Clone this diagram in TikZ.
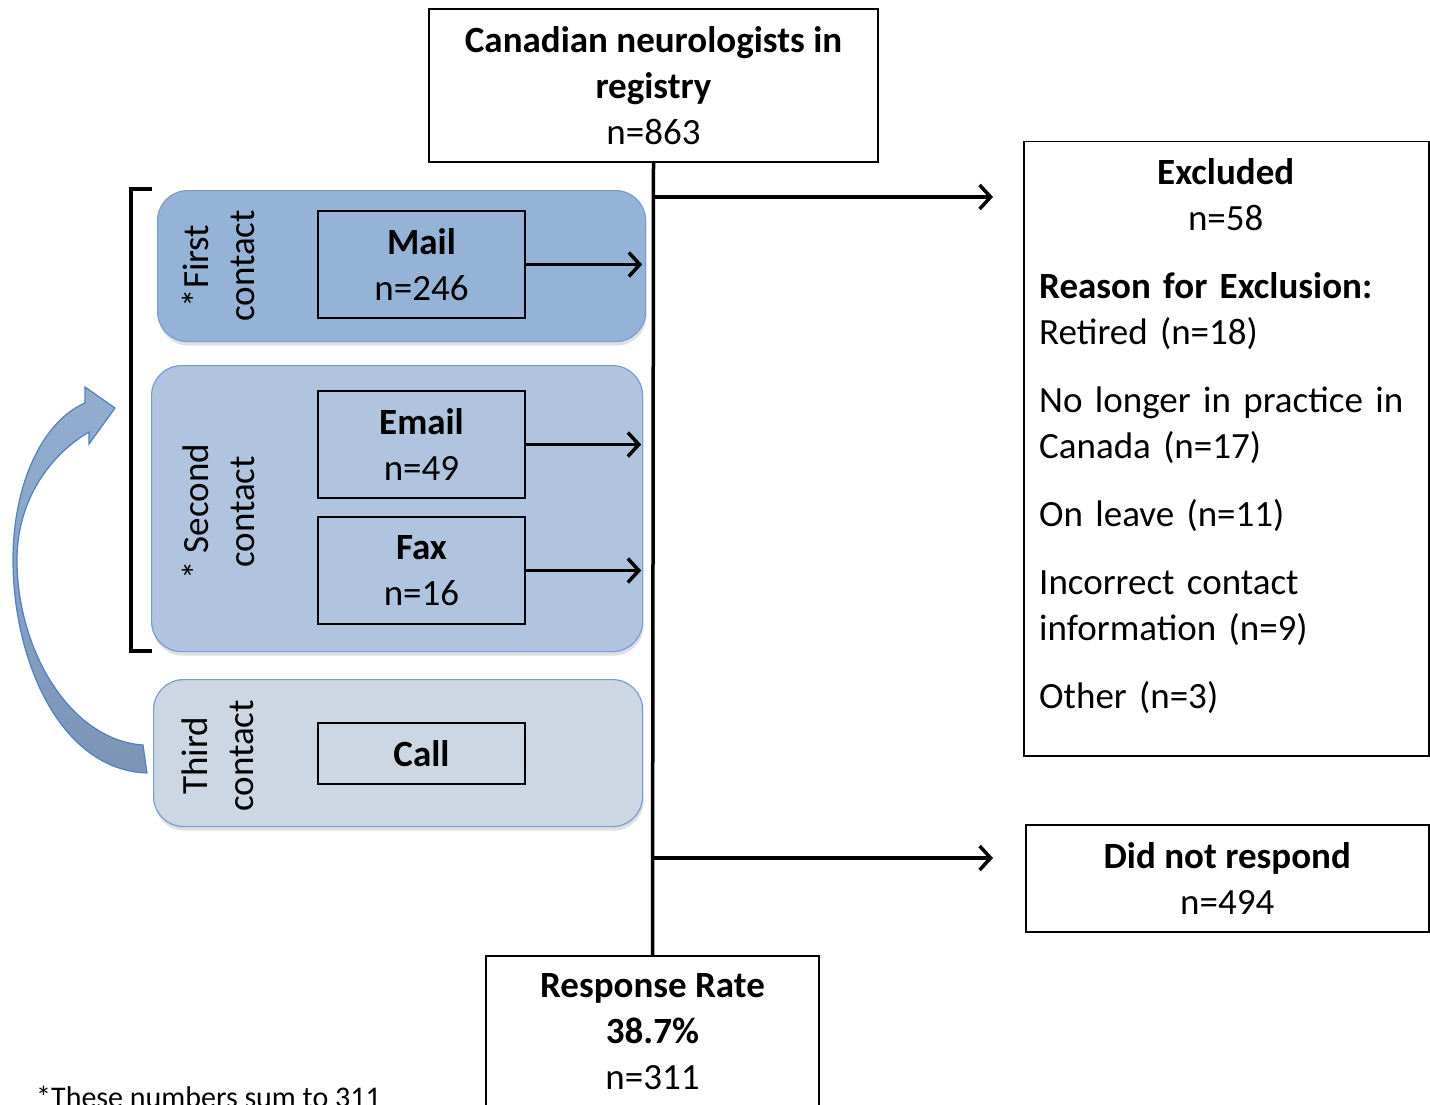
\documentclass[tikz,border=0pt]{standalone}
\usepackage{fontspec}
\setmainfont{Carlito}
\usetikzlibrary{arrows.meta,shadows}
\definecolor{firstfill}{RGB}{149,179,215}
\definecolor{secondfill}{RGB}{176,196,223}
\definecolor{thirdfill}{RGB}{205,215,228}
\definecolor{panelline}{RGB}{120,157,212}
\definecolor{loopline}{RGB}{79,129,189}
\definecolor{looptop}{RGB}{148,174,210}
\definecolor{loopbottom}{RGB}{124,148,182}
\begin{document}
\begin{tikzpicture}[x=1pt,y=-1pt,
    font=\fontsize{37}{46}\selectfont,
    frame/.style={draw, line width=1.5pt, inner sep=0pt},
    plain/.style={frame, align=center},
    way/.style={plain, minimum width=207pt, minimum height=107pt},
    panel/.style={draw=panelline, line width=1.2pt, rounded corners=30pt, anchor=north west,
        drop shadow={shadow xshift=1pt, shadow yshift=-4pt, opacity=0.25}},
    tag/.style={rotate=90, align=center},
    link/.style={line width=3.5pt, -{Straight Barb[length=11pt,width=24pt]}}]
    \useasboundingbox (0,0) rectangle (1430,1105);

    % Registro y resultado
    \node[plain, minimum width=449pt, minimum height=153pt] (registry) at (653.5,85.5)
        {\textbf{Canadian neurologists in}\\\textbf{registry}\\n=863};
    \node[plain, anchor=north, minimum width=333pt, minimum height=170pt, text depth=18pt] (response) at (652.5,955)
        {\textbf{Response Rate}\\\textbf{38.7\%}\\n=311};
    \draw[line width=3.5pt] (registry.south) -- (response.north);
    \coordinate (split1) at (registry.south |- 0,197);
    \coordinate (split2) at (registry.south |- 0,858);

    % Paneles de contacto
    \node[panel, fill=firstfill, minimum width=488pt, minimum height=151pt] (first) at (157,190) {};
    \node[panel, fill=secondfill, minimum width=491pt, minimum height=286pt] (second) at (151,365) {};
    \node[panel, fill=thirdfill, minimum width=489pt, minimum height=147pt] (third) at (153,679) {};

    \node[tag] (firsttag) at (218,266) {*First\\contact};
    \node[tag] (secondtag) at (218,512) {* Second\\contact};
    \node[tag] (thirdtag) at (218,756) {Third\\contact};

    \node[way] (mail) at (421.5,264.5) {\textbf{Mail}\\n=246};
    \node[way] (email) at (421.5,444.5) {\textbf{Email}\\n=49};
    \node[way] (fax) at (421.5,570.5) {\textbf{Fax}\\n=16};
    \node[plain, minimum width=207pt, minimum height=61pt] (call) at (421.5,753.5) {\textbf{Call}};

    \draw[link, shorten >=4pt] (mail.east) -- (mail.east -| first.east);
    \draw[link, shorten >=2pt] (email.east) -- (email.east -| second.east);
    \draw[link, shorten >=2pt] (fax.east) -- (fax.east -| second.east);

    % Corchete
    \draw[line width=3.5pt] (152,189) -- (131,189) -- (131,651) -- (152,651);

    % Flecha curva (tercer contacto vuelve al segundo)
    \draw[loopline, line width=1.2pt, top color=looptop, bottom color=loopbottom]
        (147,773) .. controls (60,770) and (13,660) .. (13,560)
        .. controls (13,480) and (45,420) .. (85,403)
        -- (85,387) -- (115,408) -- (89,444) -- (89,432)
        .. controls (50,455) and (17,500) .. (17,560)
        .. controls (17,650) and (70,740) .. (143,745) -- cycle;

    % Salidas
    \node[frame, anchor=north west, minimum width=405pt, minimum height=614pt] (excluded) at (1023,141) {};
    \node[anchor=north west, inner sep=0pt, text width=373pt] (reasons) at ([shift={(16,17)}]excluded.north west)
        {\setlength{\parindent}{0pt}%
         {\centering\textbf{Excluded}\\n=58\par}\vspace{22pt}%
         \raggedright\textbf{Reason for Exclusion:}\\Retired (n=18)\par\vspace{22pt}%
         No longer in practice in\\Canada (n=17)\par\vspace{22pt}%
         On leave (n=11)\par\vspace{22pt}%
         Incorrect contact\\information (n=9)\par\vspace{22pt}%
         Other (n=3)\par};
    \node[plain, anchor=north west, minimum width=403pt, minimum height=107pt] (silent) at (1025,824)
        {\textbf{Did not respond}\\n=494};

    \draw[link] (split1) -- ([xshift=-30pt]excluded.west |- split1);
    \draw[link] (split2) -- ([xshift=-32pt]silent.west |- split2);

    \node[anchor=base west, inner sep=0pt, font=\fontsize{30}{36}\selectfont] (note) at (36,1107) {*These numbers sum to 311};
\end{tikzpicture}
\end{document}
